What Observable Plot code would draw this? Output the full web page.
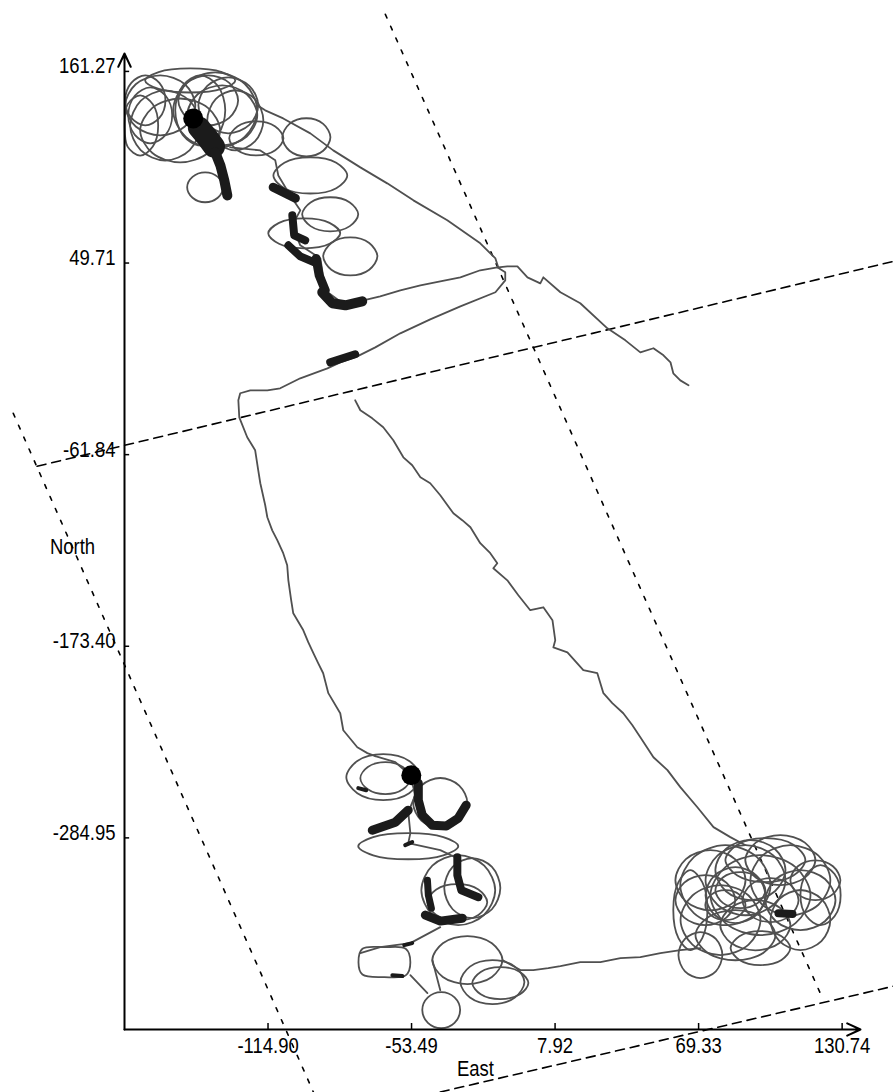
<!DOCTYPE html>
<html><head><meta charset="utf-8">
<script src="https://cdn.jsdelivr.net/npm/d3@7"></script>
<script src="https://cdn.jsdelivr.net/npm/@observablehq/plot@0.6"></script>
<style>html,body{margin:0;padding:0;background:#fff;}</style>
</head><body><div id="chart"></div>
<script>
// ---- axes ----
const xTicks = [-114.90, -53.49, 7.92, 69.33, 130.74];
const yTicks = [161.27, 49.71, -61.84, -173.40, -284.95];
const xExtent = [-176.31, 138.6];
const yExtent = [-396.51, 171.7];
const xLabel = "East";
const yLabel = "North";

// ---- survey boundary (dashed lines), [East, North] ----
const boundaryA = [[-64.7, 194.5], [122.3, -378.2]];
const boundaryB = [[-213.7, -68.6], [152.7, 50.7]];
const boundaryC = [[-223.9, -37.8], [-95.5, -432.9]];
const boundaryD = [[-41.2, -432.9], [152.7, -371.3]];

// ---- straight track legs ----
const eastLeg = [[-77.6,-30.2],[-75.4,-36.0],[-70.3,-40.7],[-65.6,-45.9],[-61.3,-53.5],[-57.0,-63.4],[-53.2,-68.0],[-49.7,-75.0],[-45.5,-78.5],[-41.2,-85.5],[-35.6,-96.0],[-31.8,-100.0],[-28.3,-104.1],[-24.1,-113.4],[-19.8,-119.2],[-16.8,-125.1],[-18.5,-128.0],[-12.5,-135.0],[-7.8,-143.7],[-2.7,-152.4],[2.9,-150.7],[6.8,-158.2],[8.0,-169.9],[7.2,-174.0],[13.2,-176.9],[20.0,-187.3],[26.0,-189.1],[28.6,-200.7],[32.4,-206.5],[37.1,-212.4],[41.0,-219.4],[44.4,-226.3],[50.0,-238.0],[56.0,-245.5],[61.5,-255.4],[68.8,-267.1],[75.7,-278.7],[82.9,-284.5],[89.4,-289.2]];
const westLeg = [[-81.8,25.1],[-74.1,28.0],[-66.9,30.3],[-58.3,33.8],[-49.7,36.7],[-41.2,39.1],[-32.6,41.4],[-24.1,45.5],[-16.8,47.2],[-13.4,44.3],[-13.4,39.6],[-17.6,32.7],[-32.6,24.5],[-45.5,16.9],[-58.3,8.8],[-69.0,0.6],[-76.7,-4.6],[-84.0,-8.1],[-89.5,-11.6],[-101.1,-17.4],[-109.7,-23.2],[-115.2,-24.4],[-122.5,-24.4],[-126.8,-26.1],[-127.6,-30.2],[-127.2,-40.1],[-123.8,-51.7],[-120.4,-59.3],[-119.1,-70.9],[-118.2,-78.5],[-116.1,-91.3],[-115.2,-98.3],[-113.1,-105.9],[-110.9,-111.7],[-108.4,-119.2],[-106.7,-126.2],[-106.2,-135.0],[-105.0,-146.6],[-104.1,-154.2],[-99.8,-164.1],[-97.7,-171.0],[-95.5,-177.4],[-93.4,-183.3],[-91.3,-189.1],[-89.1,-200.7],[-84.0,-212.4],[-82.7,-222.3],[-76.7,-232.2],[-72.4,-235.6],[-69.0,-237.4]];
const northEastLeg = [[-119.5,141.5],[-116.1,138.6],[-108.4,133.9],[-96.8,125.2],[-87.0,115.3],[-75.4,105.4],[-63.9,96.1],[-52.7,86.2],[-38.2,74.6],[-24.1,61.2],[-17.6,52.4],[-16.4,47.2],[-12.5,47.8],[-8.2,47.8],[-3.9,41.4],[1.6,37.9],[2.9,41.4],[10.2,32.7],[18.7,26.3],[30.3,11.7],[38.0,4.7],[44.4,-2.3],[50.0,0.1],[54.3,-4.0],[57.3,-8.1],[58.5,-14.5],[61.5,-18.6],[65.0,-21.5]];
const southLeg = [[-14.6,-356.1],[-6.9,-361.9],[-1.4,-361.9],[5.0,-360.8],[10.2,-359.6],[18.7,-357.3],[27.3,-357.3],[35.9,-355.0],[44.4,-354.4],[53.0,-352.0],[61.5,-350.3],[70.1,-349.1]];
const upperLinks = [[-131.1,117.0],[-118.2,115.3],[-111.8,109.5],[-110.5,100.7],[-105.4,89.1],[-101.1,80.4],[-104.5,71.6],[-101.1,60.0],[-92.5,52.4],[-90.4,33.8],[-81.8,25.1]];
const lowerLinkA = [[-69.0,-237.4],[-60.4,-240.9],[-54.0,-248.5],[-51.9,-260.1],[-54.9,-270.0],[-54.0,-282.2],[-54.9,-288.0],[-41.2,-292.1],[-34.8,-296.2]];
const lowerLinkB = [[-41.2,-336.9],[-54.0,-346.2],[-66.9,-348.6],[-75.4,-352.0]];
const lowerLinkC = [[-54.0,-364.9],[-46.7,-375.3]];
const lowerLinkD = [[-41.2,-373.6],[-44.6,-356.1]];

// ---- loops, north-western cluster ----
const loopNW1 = [[-161.0,159.0],[-150.5,153.8],[-146.0,141.5],[-150.5,129.2],[-161.0,124.0],[-171.5,129.2],[-176.0,141.5],[-171.5,153.8]];
const loopNW2 = [[-158.9,150.2],[-148.4,144.1],[-143.9,129.8],[-148.4,115.5],[-158.9,109.4],[-169.4,115.5],[-173.9,129.8],[-169.4,144.1]];
const loopNW3 = [[-165.3,152.0],[-158.7,147.1],[-155.9,135.7],[-158.7,124.3],[-165.3,119.4],[-171.9,124.3],[-174.7,135.7],[-171.9,147.1]];
const loopNW4 = [[-137.5,160.7],[-124.9,154.1],[-119.5,138.6],[-124.9,123.1],[-137.5,116.5],[-150.1,123.1],[-155.5,138.6],[-150.1,154.1]];
const loopNW5 = [[-134.5,153.2],[-124.0,148.0],[-119.5,135.7],[-124.0,123.4],[-134.5,118.2],[-145.0,123.4],[-149.5,135.7],[-145.0,148.0]];
const loopNW6 = [[-140.5,159.0],[-131.5,154.6],[-127.7,144.4],[-131.5,134.2],[-140.5,129.8],[-149.5,134.2],[-153.3,144.4],[-149.5,154.6]];
const loopNW7 = [[-131.9,157.8],[-122.9,152.9],[-119.1,141.5],[-122.9,130.1],[-131.9,125.2],[-140.9,130.1],[-144.7,141.5],[-140.9,152.9]];
const loopNW8 = [[-167.4,159.0],[-161.4,154.6],[-158.8,144.4],[-161.4,134.2],[-167.4,129.8],[-173.4,134.2],[-176.0,144.4],[-173.4,154.6]];
const loopNW9 = [[-148.2,163.0],[-134.7,160.9],[-128.9,156.0],[-134.7,151.1],[-148.2,149.0],[-161.7,151.1],[-167.5,156.0],[-161.7,160.9]];
const loopNW10 = [[-98.5,134.0],[-91.3,130.7],[-88.2,122.9],[-91.3,115.1],[-98.5,111.8],[-105.7,115.1],[-108.8,122.9],[-105.7,130.7]];
const loopNW11 = [[-119.9,132.2],[-111.8,129.2],[-108.3,122.3],[-111.8,115.4],[-119.9,112.4],[-128.0,115.4],[-131.5,122.3],[-128.0,129.2]];
const loopNW12 = [[-152.5,145.5],[-140.5,139.9],[-135.4,126.9],[-140.5,113.9],[-152.5,108.3],[-164.5,113.9],[-169.6,126.9],[-164.5,139.9]];
const loopNW13 = [[-128.9,150.3],[-120.5,145.1],[-116.9,132.8],[-120.5,120.5],[-128.9,115.3],[-137.3,120.5],[-140.9,132.8],[-137.3,145.1]];
const loopNW14 = [[-143.9,159.0],[-136.4,152.9],[-133.2,138.6],[-136.4,124.3],[-143.9,118.2],[-151.4,124.3],[-154.6,138.6],[-151.4,152.9]];
const loopNW15 = [[-169.6,147.3],[-164.2,142.1],[-161.9,129.8],[-164.2,117.5],[-169.6,112.3],[-175.0,117.5],[-176.2,129.8],[-175.0,142.1]];
const loopMid1 = [[-96.8,111.2],[-85.7,108.1],[-81.0,100.7],[-85.7,93.3],[-96.8,90.2],[-107.9,93.3],[-112.6,100.7],[-107.9,108.1]];
const loopMid2 = [[-99.4,75.7],[-88.6,73.1],[-84.0,67.0],[-88.6,60.9],[-99.4,58.3],[-110.2,60.9],[-114.8,67.0],[-110.2,73.1]];
const loopMid3 = [[-88.3,88.0],[-79.9,85.0],[-76.3,78.1],[-79.9,71.2],[-88.3,68.2],[-96.7,71.2],[-100.3,78.1],[-96.7,85.0]];
const loopMid4 = [[-79.7,64.7],[-71.6,61.4],[-68.1,53.6],[-71.6,45.8],[-79.7,42.5],[-87.8,45.8],[-91.3,53.6],[-87.8,61.4]];
const loopMid5 = [[-141.8,102.5],[-136.4,99.9],[-134.1,93.8],[-136.4,87.7],[-141.8,85.1],[-147.2,87.7],[-149.5,93.8],[-147.2,99.9]];

// ---- loops, southern cluster ----
const loopS1 = [[-65.6,-236.2],[-54.5,-240.2],[-49.8,-249.6],[-54.5,-259.0],[-65.6,-263.0],[-76.7,-259.0],[-81.4,-249.6],[-76.7,-240.2]];
const loopS2 = [[-64.7,-240.9],[-57.2,-243.7],[-54.0,-250.2],[-57.2,-256.7],[-64.7,-259.5],[-72.2,-256.7],[-75.4,-250.2],[-72.2,-243.7]];
const loopS3 = [[-41.2,-250.1],[-33.1,-254.5],[-29.6,-264.7],[-33.1,-274.9],[-41.2,-279.3],[-49.3,-274.9],[-52.8,-264.7],[-49.3,-254.5]];
const loopS4 = [[-54.9,-282.2],[-39.9,-284.5],[-33.5,-289.8],[-39.9,-295.1],[-54.9,-297.4],[-69.9,-295.1],[-76.3,-289.8],[-69.9,-284.5]];
const loopS5 = [[-33.5,-295.0],[-22.4,-301.1],[-17.7,-315.4],[-22.4,-329.7],[-33.5,-335.8],[-44.6,-329.7],[-49.3,-315.4],[-44.6,-301.1]];
const loopS6 = [[-27.5,-296.7],[-19.1,-301.9],[-15.5,-314.2],[-19.1,-326.5],[-27.5,-331.7],[-35.9,-326.5],[-39.5,-314.2],[-35.9,-301.9]];
const loopS7 = [[-33.9,-311.9],[-24.9,-315.0],[-21.1,-322.4],[-24.9,-329.8],[-33.9,-332.9],[-42.9,-329.8],[-46.7,-322.4],[-42.9,-315.0]];
const loopS8 = [[-65.1,-348.6],[-56.0,-349.5],[-54.0,-357.3],[-56.0,-365.0],[-65.1,-366.0],[-74.5,-364.5],[-76.2,-357.3],[-74.5,-349.5]];
const loopS9 = [[-40.8,-374.7],[-35.1,-377.8],[-32.7,-385.2],[-35.1,-392.6],[-40.8,-395.7],[-46.5,-392.6],[-48.9,-385.2],[-46.5,-377.8]];
const loopS10 = [[-29.6,-342.1],[-19.1,-346.3],[-14.6,-356.1],[-19.1,-365.9],[-29.6,-370.1],[-40.1,-365.9],[-44.6,-356.1],[-40.1,-346.3]];
const loopS11 = [[-18.9,-356.1],[-9.3,-359.9],[-5.2,-368.9],[-9.3,-377.9],[-18.9,-381.7],[-28.5,-377.9],[-32.6,-368.9],[-28.5,-359.9]];
const loopS12 = [[-15.5,-360.2],[-7.1,-363.0],[-3.5,-369.5],[-7.1,-376.0],[-15.5,-378.8],[-23.9,-376.0],[-27.5,-369.5],[-23.9,-363.0]];

// ---- loops, south-eastern cluster ----
const loopSE1 = [[80.8,-289.2],[94.3,-296.2],[100.1,-312.5],[94.3,-328.8],[80.8,-335.8],[67.3,-328.8],[61.5,-312.5],[67.3,-296.2]];
const loopSE2 = [[89.4,-289.2],[101.4,-295.3],[106.5,-309.6],[101.4,-323.9],[89.4,-330.0],[77.4,-323.9],[72.3,-309.6],[77.4,-295.3]];
const loopSE3 = [[95.8,-295.0],[110.8,-302.0],[117.2,-318.3],[110.8,-334.6],[95.8,-341.6],[80.8,-334.6],[74.4,-318.3],[80.8,-302.0]];
const loopSE4 = [[108.6,-289.2],[120.6,-295.3],[125.7,-309.6],[120.6,-323.9],[108.6,-330.0],[96.6,-323.9],[91.5,-309.6],[96.6,-295.3]];
const loopSE5 = [[112.9,-303.7],[123.4,-308.9],[127.9,-321.2],[123.4,-333.5],[112.9,-338.7],[102.4,-333.5],[97.9,-321.2],[102.4,-308.9]];
const loopSE6 = [[78.7,-312.4],[90.7,-318.5],[95.8,-332.8],[90.7,-347.1],[78.7,-353.2],[66.7,-347.1],[61.6,-332.8],[66.7,-318.5]];
const loopSE7 = [[93.6,-321.2],[104.1,-325.6],[108.6,-335.8],[104.1,-346.0],[93.6,-350.4],[83.1,-346.0],[78.6,-335.8],[83.1,-325.6]];
const loopSE8 = [[72.2,-306.6],[81.2,-311.0],[85.0,-321.2],[81.2,-331.4],[72.2,-335.8],[63.2,-331.4],[59.4,-321.2],[63.2,-311.0]];
const loopSE9 = [[104.3,-283.3],[114.8,-287.7],[119.3,-297.9],[114.8,-308.1],[104.3,-312.5],[93.8,-308.1],[89.3,-297.9],[93.8,-287.7]];
const loopSE10 = [[119.3,-298.0],[126.8,-301.5],[130.0,-309.6],[126.8,-317.7],[119.3,-321.2],[111.8,-317.7],[108.6,-309.6],[111.8,-301.5]];
const loopSE11 = [[70.1,-339.8],[76.7,-343.8],[79.5,-353.2],[76.7,-362.6],[70.1,-366.6],[63.5,-362.6],[60.7,-353.2],[63.5,-343.8]];
const loopSE12 = [[95.8,-339.2],[104.8,-342.2],[108.6,-349.1],[104.8,-356.0],[95.8,-359.0],[86.8,-356.0],[83.0,-349.1],[86.8,-342.2]];
const loopSE13 = [[87.2,-304.9],[94.7,-308.0],[97.9,-315.4],[94.7,-322.8],[87.2,-325.9],[79.7,-322.8],[76.5,-315.4],[79.7,-308.0]];
const loopSE14 = [[65.8,-303.7],[70.9,-310.7],[73.1,-327.0],[70.9,-343.3],[65.8,-350.3],[60.7,-343.3],[58.5,-327.0],[60.7,-310.7]];
const loopSE15 = [[85.1,-302.0],[94.1,-306.9],[97.9,-318.3],[94.1,-329.7],[85.1,-334.6],[76.1,-329.7],[72.3,-318.3],[76.1,-306.9]];
const loopSE16 = [[100.1,-308.4],[108.5,-312.2],[112.1,-321.2],[108.5,-330.2],[100.1,-334.0],[91.7,-330.2],[88.1,-321.2],[91.7,-312.2]];
const loopSE17 = [[91.5,-286.2],[102.0,-291.4],[106.5,-303.7],[102.0,-316.0],[91.5,-321.2],[81.0,-316.0],[76.5,-303.7],[81.0,-291.4]];
const loopSE18 = [[74.4,-292.1],[84.9,-297.3],[89.4,-309.6],[84.9,-321.9],[74.4,-327.1],[63.9,-321.9],[59.4,-309.6],[63.9,-297.3]];
const loopSE19 = [[112.9,-315.3],[121.9,-320.5],[125.7,-332.8],[121.9,-345.1],[112.9,-350.3],[103.9,-345.1],[100.1,-332.8],[103.9,-320.5]];
const loopSE20 = [[85.1,-327.0],[97.1,-331.4],[102.2,-341.6],[97.1,-351.8],[85.1,-356.2],[73.1,-351.8],[68.0,-341.6],[73.1,-331.4]];
const loopSE21 = [[97.9,-285.1],[109.9,-288.9],[115.0,-297.9],[109.9,-306.9],[97.9,-310.7],[85.9,-306.9],[80.8,-297.9],[85.9,-288.9]];
const loopSE22 = [[80.8,-315.4],[86.8,-318.0],[89.4,-324.1],[86.8,-330.2],[80.8,-332.8],[74.8,-330.2],[72.2,-324.1],[74.8,-318.0]];
const loopSE23 = [[121.5,-300.8],[127.5,-306.0],[130.1,-318.3],[127.5,-330.6],[121.5,-335.8],[115.5,-330.6],[112.9,-318.3],[115.5,-306.0]];

// ---- slow-speed (dark) stretches ----
const slowNW1 = [[-144.5,128.7],[-141.0,123.0],[-138.0,117.5]];
const slowNW2 = [[-137.5,114.1],[-135.3,106.6],[-133.6,97.8],[-132.3,89.1]];
const slowNW3 = [[-112.7,93.8],[-103.2,87.4]];
const slowNW4 = [[-104.5,77.5],[-103.7,65.8],[-99.0,62.9]];
const slowNW5 = [[-106.2,60.0],[-101.1,53.6],[-95.1,50.1]];
const slowNW6 = [[-94.3,52.4],[-93.0,42.5],[-90.4,33.8]];
const slowNW7 = [[-91.7,32.7],[-87.4,26.3],[-81.8,25.1],[-74.6,27.4]];
const slowMid = [[-88.3,-8.1],[-77.6,-3.4]];
const slowS1 = [[-50.6,-253.1],[-50.6,-263.0],[-48.9,-271.7],[-44.6,-277.6],[-38.6,-278.1],[-33.5,-273.5],[-30.1,-265.9]];
const slowS2 = [[-54.9,-268.8],[-60.4,-275.8],[-70.3,-280.5]];
const slowS3 = [[-33.9,-296.2],[-33.9,-306.7],[-32.2,-315.4],[-24.9,-319.5]];
const slowS4 = [[-46.7,-309.6],[-46.3,-318.3],[-45.0,-325.9]];
const slowS5 = [[-47.6,-329.9],[-41.2,-333.4],[-31.8,-331.7]];
const slowSE = [[103.5,-328.8],[109.5,-329.3]];
const marksSmall1 = [[-76.3,-256.0],[-72.9,-257.2]];
const marksSmall2 = [[-56.2,-289.2],[-53.2,-287.4]];
const marksSmall3 = [[-56.6,-347.4],[-53.2,-346.2]];
const marksSmall4 = [[-61.7,-364.9],[-57.4,-365.4]];

// ---- stops (large dots) ----
const stopE = [-146.9, -53.6];
const stopN = [133.9, -248.5];

const FONT = "'Liberation Sans', Arial, sans-serif";
const P = {x: d => d[0], y: d => d[1]};
const TRACK = "#505050";
const boundary = (pts, dash) => Plot.line(pts, {...P, stroke: "#000", strokeWidth: 1.6, strokeDasharray: dash});
const track = (pts) => Plot.line(pts, {...P, stroke: TRACK, strokeWidth: 1.8, strokeLinejoin: "round"});
const loop = (pts) => Plot.line(pts, {...P, curve: "catmull-rom-closed", stroke: TRACK, strokeWidth: 1.8});
const thick = (pts, w) => Plot.line(pts, {...P, stroke: "#1b1b1b", strokeWidth: w, strokeLinecap: "round", strokeLinejoin: "round"});

const loopsAll = [loopNW1, loopNW2, loopNW3, loopNW4, loopNW5, loopNW6, loopNW7, loopNW8, loopNW9, loopNW10, loopNW11,
  loopNW12, loopNW13, loopNW14, loopNW15,
  loopMid1, loopMid2, loopMid3, loopMid4, loopMid5,
  loopS1, loopS2, loopS3, loopS4, loopS5, loopS6, loopS7, loopS8, loopS9, loopS10, loopS11, loopS12,
  loopSE1, loopSE2, loopSE3, loopSE4, loopSE5, loopSE6, loopSE7, loopSE8, loopSE9, loopSE10, loopSE11, loopSE12,
  loopSE13, loopSE14, loopSE15, loopSE16, loopSE17, loopSE18, loopSE19, loopSE20, loopSE21, loopSE22, loopSE23];
const tracksAll = [eastLeg, westLeg, northEastLeg, southLeg, upperLinks, lowerLinkA, lowerLinkB, lowerLinkC, lowerLinkD];
const stops = stopE.map((e, i) => [e, stopN[i]]);

const chart = Plot.plot({
  width: 893, height: 1092,
  marginTop: 53, marginRight: 33, marginBottom: 63, marginLeft: 124,
  x: {domain: xExtent},
  y: {domain: yExtent},
  style: {background: "#fff", fontFamily: FONT, fontSize: "22px", color: "#000"},
  marks: [
    boundary(boundaryA, "4,9"),
    boundary(boundaryC, "4,9"),
    boundary(boundaryB, "9,6"),
    boundary(boundaryD, "9,6"),
    ...tracksAll.map(track),
    ...loopsAll.map(loop),
    thick(slowNW1, 22), thick(slowNW2, 10), thick(slowNW3, 9), thick(slowNW4, 8), thick(slowNW5, 8),
    thick(slowNW6, 9), thick(slowNW7, 10), thick(slowMid, 8),
    thick(slowS1, 9), thick(slowS2, 9), thick(slowS3, 8), thick(slowS4, 7), thick(slowS5, 9), thick(slowSE, 8),
    thick(marksSmall1, 4), thick(marksSmall2, 4), thick(marksSmall3, 4), thick(marksSmall4, 4),
    Plot.dot(stops, {...P, r: 10, fill: "#000"}),
    Plot.ruleX(xTicks, {x: d => d, y1: yExtent[0], y2: yExtent[0] + 3.5, stroke: "#000", strokeWidth: 1.5}),
    Plot.ruleY(yTicks, {y: d => d, x1: xExtent[0], x2: xExtent[0] + 2.2, stroke: "#000", strokeWidth: 1.5}),
    Plot.arrow([{x1: xExtent[0], y1: yExtent[0], x2: xExtent[1], y2: yExtent[0]}],
      {x1: "x1", y1: "y1", x2: "x2", y2: "y2", stroke: "#000", strokeWidth: 2, headLength: 11, headAngle: 50}),
    Plot.arrow([{x1: xExtent[0], y1: yExtent[0], x2: xExtent[0], y2: yExtent[1]}],
      {x1: "x1", y1: "y1", x2: "x2", y2: "y2", stroke: "#000", strokeWidth: 2, headLength: 11, headAngle: 50}),
    Plot.axisX({ticks: xTicks, anchor: "bottom", tickSize: 0, tickPadding: 8, tickFormat: d => d.toFixed(2), label: null, fontSize: 22, fontFamily: FONT}),
    Plot.axisY({ticks: yTicks, anchor: "left", tickSize: 0, tickPadding: 9, dy: -5, tickFormat: d => d.toFixed(2), label: null, fontSize: 22, fontFamily: FONT}),
    Plot.text([yLabel], {text: d => d, frameAnchor: "left", dx: -52, dy: 5, textAnchor: "middle", fontSize: 22, fontFamily: FONT}),
    Plot.text([xLabel], {text: d => d, frameAnchor: "bottom", dx: -17, dy: 46, textAnchor: "middle", fontSize: 22, fontFamily: FONT})
  ]
});
document.getElementById("chart").appendChild(chart);
// narrow the lettering to match the condensed face of the original
chart.querySelectorAll("text").forEach(t => {
  const w = t.getComputedTextLength();
  if (w > 0) {
    t.setAttribute("textLength", (w * 0.84).toFixed(1));
    t.setAttribute("lengthAdjust", "spacingAndGlyphs");
  }
});
</script>
</body></html>
